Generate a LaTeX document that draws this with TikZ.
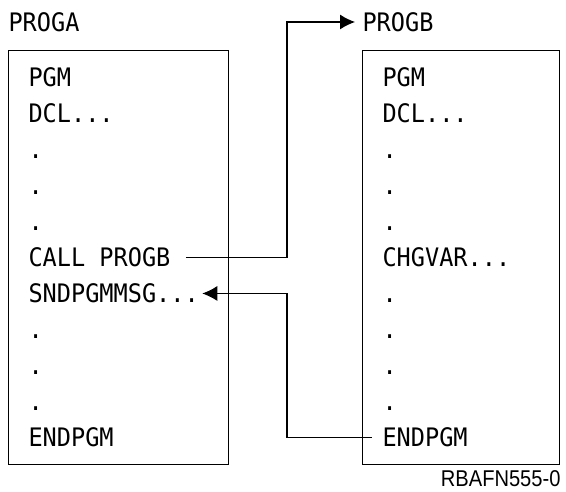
\documentclass[tikz,border=0pt]{standalone}
\usepackage{fontspec}
\newfontfamily\codefont[FakeStretch=0.925]{DejaVu Sans Mono}
\newfontfamily\tagfont{Liberation Sans}
\usepackage{tikz}
\usetikzlibrary{matrix}
\usetikzlibrary{arrows.meta}

\tikzset{
  cell/.style={anchor=west, inner xsep=0.06cm, inner ysep=0pt,
    text height=0.37cm, text depth=0pt, minimum height=0.72cm,
    font=\codefont\fontsize{14.5}{17}\selectfont},
  prog/.style={matrix of nodes, draw, line width=0.6pt,
    inner xsep=0.34cm, inner ysep=0.18cm, row sep=0pt, nodes={cell}},
  progname/.style={anchor=west, inner xsep=0.14cm, inner ysep=0pt,
    font=\codefont\fontsize{14.5}{17}\selectfont},
}

\begin{document}
\begin{tikzpicture}[x=0.02cm,y=-0.02cm,line width=0.6pt,
                    >={Latex[length=0.3cm,width=0.3cm]}]
\useasboundingbox (0,0) rectangle (566,492);
            \matrix (proga) [prog, anchor=north west,
            row 1/.style={nodes={text width=3.6cm}},
            ] at (8,50)
        { PGM \\
DCL... \\
. \\
. \\
. \\
CALL PROGB \\
SNDPGMMSG... \\
. \\
. \\
. \\
ENDPGM \\
};
            \matrix (progb) [prog, anchor=north west,
            row 1/.style={nodes={text width=3.14cm}},
            ] at (362,50)
        { PGM \\
DCL... \\
. \\
. \\
. \\
CHGVAR... \\
. \\
. \\
. \\
. \\
ENDPGM \\
};
\node (nameA) [progname] at (1,22) {PROGA};
\node (nameB) [progname] at (355,22) {PROGB};
\node (figid) [anchor=east, inner sep=0pt, font=\tagfont\fontsize{13}{15}\selectfont]
  at (561,479) {\scalebox{0.88}[1]{RBAFN555-0}};
\coordinate (turn) at (287,0);
\draw[->, shorten <=0.24cm] (proga-6-1.east) -- (proga-6-1.east -| turn) |- (nameB.west);
\draw[->, shorten <=0.14cm] (progb-11-1.west) -- (progb-11-1.west -| turn) |- (proga-7-1.east);
\end{tikzpicture}
\end{document}
